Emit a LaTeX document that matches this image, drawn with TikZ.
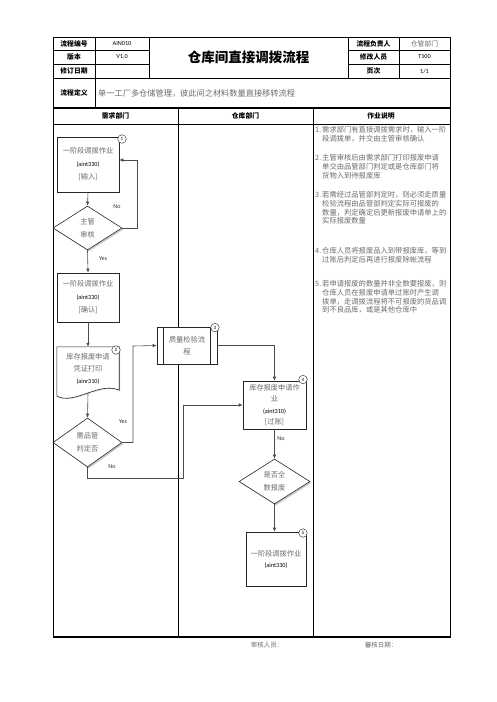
\documentclass[tikz,border=0pt]{standalone}
\usepackage{fontspec}
\setmainfont{Carlito}
\newfontfamily\cjk{Noto Sans CJK SC}
\usepackage{tikz}
\usetikzlibrary{shapes.geometric, arrows.meta, positioning, calc, shadows}
\definecolor{zhgray}{gray}{0.42}
\newcommand\zh[1]{{\cjk\color{zhgray}#1}}
\newcommand\hd[1]{{\cjk\bfseries #1}}
\newcommand\lt[1]{{\fontsize{6.2}{0}\selectfont #1}}

\begin{document}
\begin{tikzpicture}[x=1pt, y=-1pt,
  box/.style={draw=black!85, fill=white, line width=0.6pt, inner sep=0pt, align=center,
    drop shadow={shadow xshift=0.8pt, shadow yshift=-0.8pt, fill=black!35},
    font=\fontsize{7.2}{13}\selectfont},
  decision/.style={diamond, draw=black!85, fill=white, line width=0.6pt, inner sep=0pt, align=center,
    drop shadow={shadow xshift=1.5pt, shadow yshift=-1.5pt, fill=black!40},
    font=\fontsize{7.2}{13}\selectfont},
  tag/.style={circle, draw=black!75, fill=white, line width=0.5pt, inner sep=0pt,
    minimum size=8.5pt, font=\fontsize{5}{5}\selectfont},
  flow/.style={draw=black!70, line width=0.6pt, -{Latex[length=4pt,width=3.5pt]}},
  yn/.style={font=\fontsize{6}{7}\selectfont, text=black!85},
  cell/.style={font=\fontsize{6.8}{8}\selectfont},
  num/.style={anchor=base west, inner sep=0pt, text=zhgray,
    font=\cjk\fontsize{7.3}{8.7}\selectfont},
  note/.style={anchor=north west, inner sep=0pt, align=left, text=zhgray,
    font=\cjk\fontsize{7.3}{8.7}\selectfont}
]
  \useasboundingbox (0,0) rectangle (496,702);

  % Header table
  \draw[line width=0.7pt] (53,37) rectangle (450,108);
  \draw[line width=0.6pt] (53,50) -- (149,50) (348,50) -- (450,50);
  \draw[line width=0.6pt] (53,64) -- (149,64) (348,64) -- (450,64);
  \draw[line width=0.6pt] (53,78) -- (450,78);
  \draw[line width=0.6pt] (95,37) -- (95,108);
  \draw[line width=0.6pt] (149,37) -- (149,78) (348,37) -- (348,78) (399,37) -- (399,78);

  \node[cell] (h1) at (74,43.5) {\hd{流程编号}};
  \node[cell] (h2) at (74,57) {\hd{版本}};
  \node[cell] (h3) at (74,71) {\hd{修订日期}};
  \node[cell] (h4) at (74,93) {\hd{流程定义}};
  \node[cell] (v1) at (122,43.5) {\lt{AIN010}};
  \node[cell] (v2) at (122,57) {\lt{V1.0}};
  \node[cell] (h5) at (373.5,43.5) {\hd{流程负责人}};
  \node[cell] (h6) at (373.5,57) {\hd{修改人员}};
  \node[cell] (h7) at (373.5,71) {\hd{页次}};
  \node[cell] (v5) at (424.5,43.5) {\zh{仓管部门}};
  \node[cell] (v6) at (424.5,57) {\lt{T100}};
  \node[cell] (v7) at (424.5,71) {\lt{1/1}};
  \node[font=\fontsize{13.5}{15}\selectfont] (title) at (248.5,57.5) {\hd{仓库间直接调拨流程}};
  \node[anchor=west, inner sep=0pt, font=\fontsize{8.2}{10}\selectfont] (def) at (98,93)
    {\zh{单一工厂多仓储管理，彼此间之材料数量直接移转流程}};

  % Lanes
  \draw[line width=0.7pt] (53,108) rectangle (450,637);
  \draw[line width=0.6pt] (53,124) -- (450,124);
  \draw[line width=0.7pt] (178,108) -- (178,637) (313,108) -- (313,637);
  \draw[line width=1.4pt] (53,108) -- (450,108) (53,637) -- (450,637);
  \node[cell] (l1) at (115.5,116) {\hd{需求部门}};
  \node[cell] (l2) at (245.5,116) {\hd{仓库部门}};
  \node[cell] (l3) at (381,116) {\hd{作业说明}};

  % Flow nodes
  \node[box, minimum width=62pt, minimum height=55pt] (b1) at (88,164.5)
    {\zh{一阶段调拨作业}\\\lt{(aint330)}\\{}\zh{[输入]}};
  \node[decision, minimum width=69pt, minimum height=44pt] (d1) at (87.5,228)
    {\zh{主管}\\\zh{审核}};
  \node[box, minimum width=62pt, minimum height=49pt] (b2) at (88,297.5)
    {\zh{一阶段调拨作业}\\\lt{(aint330)}\\{}\zh{[确认]}};
  \node[inner sep=0pt, minimum width=62pt, minimum height=44pt, align=center,
    font=\fontsize{7.2}{12}\selectfont] (doc) at (88,369) {};
  \draw[draw=black!85, fill=white, line width=0.6pt,
    drop shadow={shadow xshift=0.8pt, shadow yshift=-0.8pt, fill=black!35}]
    (doc.north west) -- (doc.north east) -- ($(doc.south east)+(0,-1)$)
    .. controls +(-20,-9) and +(18,9) .. ($(doc.south west)+(0,5)$) -- cycle;
  \node[align=center, inner sep=0pt, font=\fontsize{7.2}{12}\selectfont] (doctxt) at (doc.center)
    {\zh{库存报废申请}\\\zh{凭证打印}\\\lt{(ainr310)}};
  \node[decision, minimum width=69pt, minimum height=49pt, font=\fontsize{7.2}{12.5}\selectfont] (d2) at (87.5,442.5)
    {\zh{需品管}\\\zh{判定否}};
  \node[box, minimum width=60pt, minimum height=37pt, font=\fontsize{7.2}{11.5}\selectfont] (qc) at (187,345.5)
    {\zh{质量检验流}\\\zh{程}};
  \draw[draw=black!85, line width=0.6pt] ($(qc.north west)+(7,0)$) -- ($(qc.south west)+(7,0)$)
    ($(qc.north east)+(-7,0)$) -- ($(qc.south east)+(-7,0)$);
  \node[box, minimum width=63pt, minimum height=48pt, font=\fontsize{7.2}{11.3}\selectfont] (b4) at (274.5,405)
    {\zh{库存报废申请作}\\\zh{业}\\\lt{(aint310)}\\{}\zh{[过账]}};
  \node[decision, minimum width=71pt, minimum height=45pt] (d3) at (274.5,481.5)
    {\zh{是否全}\\\zh{数报废}};
  \node[box, minimum width=60pt, minimum height=54pt, font=\fontsize{7.2}{11}\selectfont] (b5) at (276,559)
    {\zh{一阶段调拨作业}\\\lt{(aint330)}};

  % Step tags
  \node[tag] (s1) at (122,139) {1};
  \node[tag] (s2) at (116,350) {2};
  \node[tag] (s3) at (215,327.5) {3};
  \node[tag] (s4) at (303,379.5) {4};
  \node[tag] (s5) at (303,533) {5};

  % Connectors
  \coordinate (fb) at (137,160);
  \coordinate (qy) at (133,346);
  \coordinate (nr) at (183,478);
  \draw[flow] (b1.south) -- (d1.north);
  \draw[flow] (d1.east) -| (fb) -- (fb -| b1.east);
  \draw[flow] (d1.south) -- (b2.north);
  \draw[flow] (b2.south) -- (doc.north);
  \draw[flow] ($(doc.south)+(0,2)$) -- (d2.north);
  \draw[flow] (d2.east) -| (qy) -- (qc.west);
  \draw[flow] (d2.south) |- (nr) |- (b4.west);
  \draw[flow] (qc.east) -| (b4.north);
  \draw[flow] (b4.south) -- (d3.north);
  \draw[flow] (d3.south) -- (d3.south |- b5.north);

  \node[yn] (no1) at (117,207) {No};
  \node[yn] (yes1) at (103,259) {Yes};
  \node[yn] (yes2) at (123,422) {Yes};
  \node[yn] (no2) at (112,467) {No};
  \node[yn] (no3) at (281,439) {No};

  % Notes
  \node[num] (n1) at (315,132.7) {1.};
  \node[note] (t1) at (322,126.3) {需求部门有直接调拨需求时，输入一阶\\段调拨单，并交由主管审核确认};
  \node[num] (n2) at (315,160.7) {2.};
  \node[note] (t2) at (322,154.3) {主管审核后由需求部门打印报废申请\\单交由品管部门判定或是仓库部门将\\货物入到待报废库};
  \node[num] (n3) at (315,197.7) {3.};
  \node[note] (t3) at (322,191.3) {若需经过品管部判定时，则必须走质量\\检验流程由品管部判定实际可报废的\\数量，判定确定后更新报废申请单上的\\实际报废数量};
  \node[num] (n4) at (315,253.7) {4.};
  \node[note] (t4) at (322,247.3) {仓库人员将报废品入到带报废库，等到\\过账后判定后再进行报废除帐流程};
  \node[num] (n5) at (315,286.7) {5.};
  \node[note] (t5) at (322,280.3) {若申请报废的数量并非全数要报废，则\\仓库人员在报废申请单过账时产生调\\拨单，走调拨流程将不可报废的货品调\\到不良品库，或是其他仓库中};

  % Footer
  \node[font=\fontsize{6.5}{8}\selectfont] (sig1) at (267,645) {\zh{审核人员：}};
  \node[font=\fontsize{6.5}{8}\selectfont] (sig2) at (381,645) {\zh{審核日期：}};
\end{tikzpicture}
\end{document}
